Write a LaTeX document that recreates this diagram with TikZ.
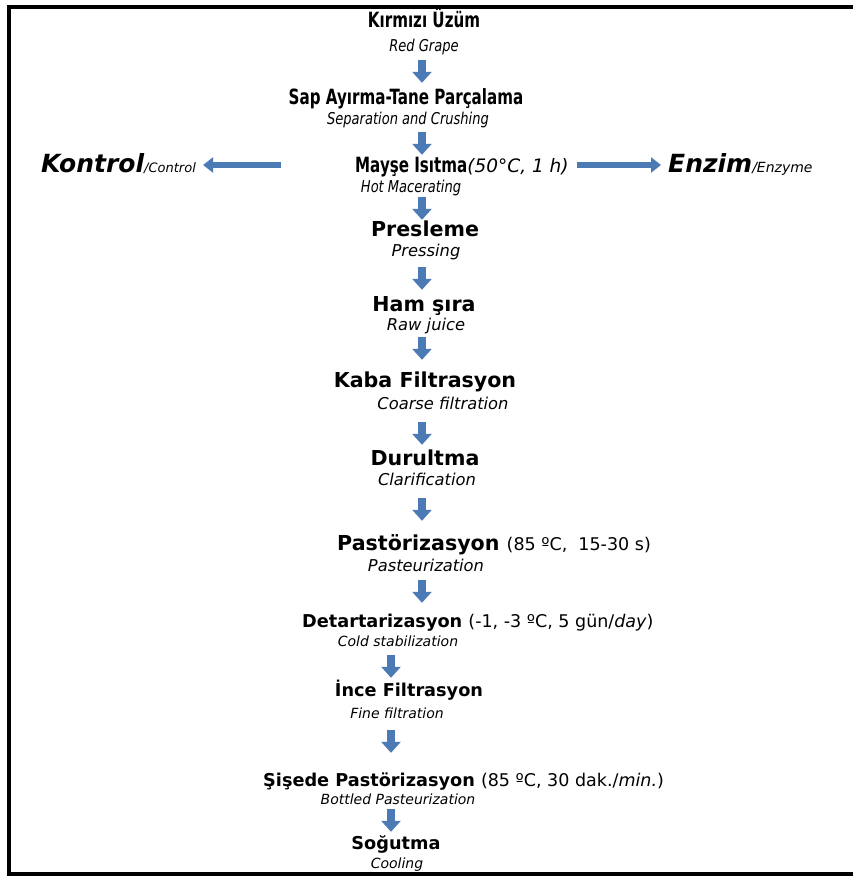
\documentclass[tikz,border=0pt]{standalone}
\usepackage{fontspec}
\setmainfont{DejaVu Sans}
\newfontfamily\etroit[FakeStretch=0.72]{DejaVu Sans}
\newfontfamily\etroitT[FakeStretch=0.8]{DejaVu Sans}
\usepackage{xcolor}
\usetikzlibrary{arrows.meta}
\definecolor{bleuFleche}{RGB}{76,122,180}
\tikzset{
Etape/.style={
 font=\fontsize{20.6}{24}\selectfont\bfseries,
 inner sep=0pt,
 text height=15pt,
 text depth=0pt
 },
EtapeH/.style={
 Etape,
 font=\etroit\bfseries\fontsize{21}{24}\selectfont
 },
EtapeB/.style={
 Etape,
 font=\fontsize{17.7}{21}\selectfont\bfseries,
 text height=13pt
 },
Trad/.style={
 font=\fontsize{16.3}{19}\selectfont\itshape,
 inner sep=0pt,
 text height=12pt,
 text depth=0pt
 },
TradH/.style={
 Trad,
 font=\etroitT\itshape\fontsize{16.3}{19}\selectfont
 },
TradB/.style={
 Trad,
 font=\fontsize{14}{17}\selectfont\itshape,
 text height=10.6pt
 },
BFleche/.style={
 draw=bleuFleche,
 line width=8pt,
 -{Triangle[width=19pt,length=11pt]}
 },
HFleche/.style={
 draw=bleuFleche,
 line width=6pt,
 -{Triangle[width=15pt,length=10pt]}
 }
}
\newcommand{\Param}[1]{{\fontsize{17.5}{20}\selectfont\mdseries #1}}

\begin{document}
\begin{tikzpicture}[x=1pt,y=-1pt]
\useasboundingbox (0,0) rectangle (852,876);
\draw[line width=4pt] (9.2,6.7) rectangle (880,874);
\coordinate (axeH) at (422,0);
\coordinate (axeB) at (391,0);
% etapes
\node[EtapeH] (e1) at (424,20) {Kırmızı Üzüm};
\node[TradH] (t1) at (424,45) {Red Grape};
\node[EtapeH] (e2) at (406,97) {Sap Ayırma-Tane Parçalama};
\node[TradH] (t2) at (408,118) {Separation and Crushing};
\node[EtapeH,anchor=west] (e3) at (355,165) {Mayşe Isıtma{\fontsize{18.5}{21}\selectfont\rmfamily\mdseries\itshape(50°C, 1 h)}};
\node[TradH] (t3) at (411,186) {Hot Macerating};
\node[Etape,anchor=west,font=\fontsize{25}{28}\selectfont\bfseries\itshape] (k) at (41,165) {Kontrol{\fontsize{13}{15}\selectfont\mdseries/Control}};
\node[Etape,anchor=west,font=\fontsize{25}{28}\selectfont\bfseries\itshape] (z) at (668,165) {Enzim{\fontsize{14}{16}\selectfont\mdseries/Enzyme}};
\node[Etape] (e4) at (425,229) {Presleme};
\node[Trad] (t4) at (426,250) {Pressing};
\node[Etape] (e5) at (424,304) {Ham şıra};
\node[Trad] (t5) at (426,324) {Raw juice};
\node[Etape] (e6) at (425,380) {Kaba Filtrasyon};
\node[Trad] (t6) at (443,403) {Coarse filtration};
\node[Etape] (e7) at (425,458) {Durultma};
\node[Trad] (t7) at (427,479) {Clarification};
\node[Etape,anchor=west] (e8) at (337,543) {Pastörizasyon \Param{(85 ºC,~ 15-30 s)}};
\node[Trad] (t8) at (426,565) {Pasteurization};
\node[EtapeB,anchor=west] (e9) at (302,621) {Detartarizasyon \Param{(-1, -3 ºC, 5 gün/\textit{day})}};
\node[TradB] (t9) at (398,641) {Cold stabilization};
\node[EtapeB] (e10) at (409,690) {İnce Filtrasyon};
\node[TradB] (t10) at (397,713) {Fine filtration};
\node[EtapeB,anchor=west] (e11) at (263,780) {Şişede Pastörizasyon \Param{(85 ºC, 30 dak./\textit{min.})}};
\node[TradB] (t11) at (398,799) {Bottled Pasteurization};
\node[EtapeB] (e12) at (396,843) {Soğutma};
\node[TradB] (t12) at (397,863) {Cooling};
% fleches
\draw[BFleche,shorten <=9pt,shorten >=6.5pt] (t1.south -| axeH) -- (e2.north -| axeH);
\draw[BFleche,shorten <=8pt,shorten >=2.5pt] (t2.south -| axeH) -- (e3.north -| axeH);
\draw[BFleche,shorten <=5pt,shorten >=1.5pt] (t3.south -| axeH) -- (e4.north -| axeH);
\draw[BFleche,shorten <=11pt,shorten >=6.5pt] (t4.south -| axeH) -- (e5.north -| axeH);
\draw[BFleche,shorten <=7pt,shorten >=12.5pt] (t5.south -| axeH) -- (e6.north -| axeH);
\draw[BFleche,shorten <=13pt,shorten >=5.5pt] (t6.south -| axeH) -- (e7.north -| axeH);
\draw[BFleche,shorten <=13pt,shorten >=14.5pt] (t7.south -| axeH) -- (e8.north -| axeH);
\draw[BFleche,shorten <=9pt,shorten >=11.5pt] (t8.south -| axeH) -- (e9.north -| axeH);
\draw[BFleche,shorten <=8.7pt,shorten >=5.5pt] (t9.south -| axeB) -- (e10.north -| axeB);
\draw[BFleche,shorten <=11.7pt,shorten >=20.5pt] (t10.south -| axeB) -- (e11.north -| axeB);
\draw[BFleche,shorten <=4.7pt,shorten >=4.5pt] (t11.south -| axeB) -- (e12.north -| axeB);
\coordinate (queueG) at (281,165);
\draw[HFleche,shorten >=7pt] (queueG) -- (k.east);
\draw[HFleche,shorten <=8pt,shorten >=7pt] (e3.east) -- (z.west);
\end{tikzpicture}
\end{document}
